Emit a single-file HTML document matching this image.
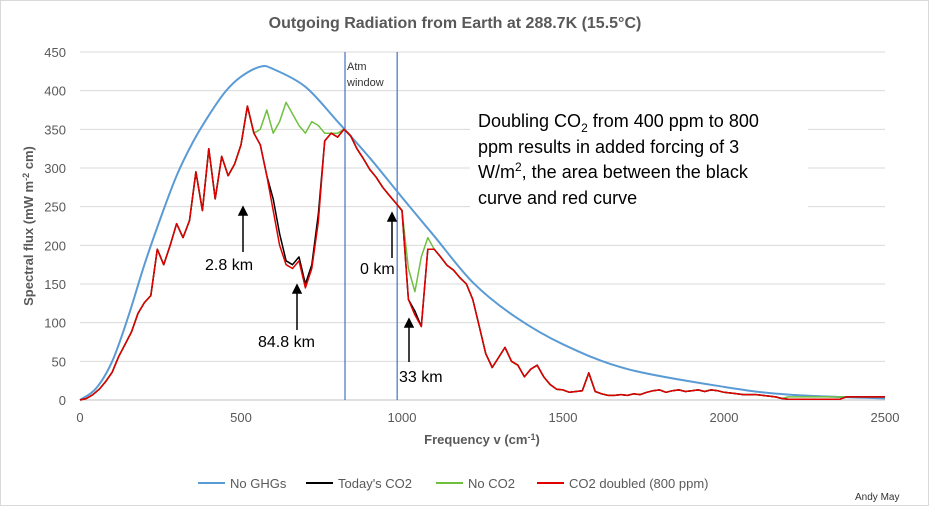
<!DOCTYPE html>
<html><head><meta charset="utf-8"><style>
body{margin:0;background:#fff;font-family:"Liberation Sans",sans-serif}
svg text{font-family:"Liberation Sans",sans-serif}
</style></head><body>
<svg id="c" width="935" height="513">
<rect x="0.5" y="0.5" width="928" height="505" fill="#fff" stroke="#d9d9d9"/>
<text x="455" y="28" text-anchor="middle" font-size="16" font-weight="bold" fill="#595959">Outgoing Radiation from Earth at 288.7K (15.5°C)</text>
<g id="grid"></g><g id="series"></g>
<rect x="470" y="104" width="338" height="112" fill="#fff"/>
<text x="33" y="226" transform="rotate(-90 33 226)" text-anchor="middle" font-size="13" font-weight="bold" fill="#595959">Spectral flux (mW m<tspan dy="-4" font-size="9">-2</tspan><tspan dy="4"> cm)</tspan></text>
<text x="482" y="444" text-anchor="middle" font-size="13" font-weight="bold" fill="#595959">Frequency v (cm<tspan dy="-4" font-size="9">-1</tspan><tspan dy="4">)</tspan></text>
<text x="347" y="70" font-size="11" fill="#333">Atm</text>
<text x="347" y="86" font-size="11" fill="#333">window</text>
<g font-size="18" fill="#000">
<text x="478" y="127">Doubling CO<tspan dy="5" font-size="12">2</tspan><tspan dy="-5"> from 400 ppm to 800</tspan></text>
<text x="478" y="153">ppm results in added forcing of  3</text>
<text x="478" y="178">W/m<tspan dy="-7" font-size="12">2</tspan><tspan dy="7">, the area between the black</tspan></text>
<text x="478" y="204">curve and red curve</text>
</g>
<g font-size="16" fill="#000">
<text x="205" y="270">2.8 km</text><text x="258" y="347">84.8 km</text><text x="360" y="274">0 km</text><text x="399" y="382">33 km</text>
</g>
<g stroke="#000" stroke-width="1.5" fill="#000">
<line x1="243" y1="252" x2="243" y2="214"/><polygon points="239,215 247,215 243,207"/>
<line x1="297" y1="330" x2="297" y2="292"/><polygon points="293,293 301,293 297,285"/>
<line x1="392" y1="258" x2="392" y2="220"/><polygon points="388,221 396,221 392,213"/>
<line x1="409" y1="362" x2="409" y2="326"/><polygon points="405,327 413,327 409,319"/>
</g>
<g font-size="13" fill="#595959">
<line x1="198" y1="483" x2="225" y2="483" stroke="#5b9bd5" stroke-width="2"/><text x="230" y="488">No GHGs</text>
<line x1="306" y1="483" x2="333" y2="483" stroke="#000" stroke-width="2"/><text x="338" y="488">Today's CO2</text>
<line x1="436" y1="483" x2="463" y2="483" stroke="#70c040" stroke-width="2"/><text x="468" y="488">No CO2</text>
<line x1="537" y1="483" x2="564" y2="483" stroke="#e00000" stroke-width="2"/><text x="569" y="488">CO2 doubled (800 ppm)</text>
</g>
<text x="855" y="500" font-size="10" fill="#333">Andy May</text>
</svg>
<script>
const xTicks=[0,500,1000,1500,2000,2500];
const yTicks=[0,50,100,150,200,250,300,350,400,450];
const planckFreq=[0,50,100,150,200,250,300,350,400,450,500,560,600,700,800,900,1000,1100,1220,1350,1500,1700,2000,2200,2500];
const planckVal=[0,15,50,108,175,235,290,333,368,398,418,431,428,405,360,313,262,212,152,108,72,40,17,7,2];
const freq=[];for(let f=0;f<=2500;f+=20)freq.push(f);
const red=[0,2,7,14,24,36,56,72,88,112,
126,135,195,175,200,228,210,232,295,245,
325,260,315,290,305,330,380,345,330,290,
245,200,175,170,180,145,170,230,335,345,
340,350,342,325,312,298,288,275,265,255,
245,130,110,95,195,195,185,174,168,158,
150,130,95,60,42,55,68,50,45,30,
40,45,30,20,14,13,10,11,12,35,
11,8,6,6,7,6,8,7,10,12,
13,10,12,13,11,12,13,11,13,12,
10,9,8,7,7,7,6,5,4,2,
1,1,1,1,1,1,1,1,1,
4,4,4,4,4,4,4];
const black=red.slice();
const blackIdx=[30,31,32,33,34,35,36,37,52];
const blackVal=[260,215,180,175,185,150,175,240,115];
blackIdx.forEach((i,k)=>black[i]=blackVal[k]);
const green=red.slice();
const greenIdx=[28,29,30,31,32,33,34,35,36,37,38,39,40,51,52,53,54,110,111,112,113,114,115,116,117,118];
const greenVal=[350,375,345,360,385,370,355,345,360,355,345,345,345,170,140,185,210,4,4,4,4,4,4,4,4,4];
greenIdx.forEach((i,k)=>green[i]=greenVal[k]);
const X=v=>80+v*805/2500, Y=v=>400-v*348/450;
const NS="http://www.w3.org/2000/svg";
const grid=document.getElementById('grid'),ser=document.getElementById('series');
function mk(tag,at,p){const e=document.createElementNS(NS,tag);for(const k in at)e.setAttribute(k,at[k]);p.appendChild(e);return e;}
yTicks.forEach(t=>{
 const l=mk('line',{x1:80,x2:885,y1:Y(t),y2:Y(t),stroke:t?'#d9d9d9':'#bfbfbf'},grid);
 
 
 const tx=mk('text',{x:66,y:Y(t)+5,'text-anchor':'end','font-size':13,fill:'#595959'},grid);tx.textContent=t;
 
 
});
xTicks.forEach(t=>{
 const tx=mk('text',{x:X(t),y:422,'text-anchor':'middle','font-size':13,fill:'#595959'},grid);tx.textContent=t;
 
 
});
[823,985].forEach(v=>{const l=mk('line',{x1:X(v),x2:X(v),y1:52,y2:400,stroke:'#4472c4','stroke-width':1.2},grid);
 
 });
function path(xs,ys,col,name,w){
 const d=xs.map((x,i)=>(i?'L':'M')+X(x).toFixed(1)+','+Y(ys[i]).toFixed(1)).join('');
 const p=mk('path',{d:d,fill:'none',stroke:col,'stroke-width':w,'stroke-linejoin':'round'},ser);
 
 
}
(function(){const n=planckFreq.length;const P=i=>[X(planckFreq[Math.max(0,Math.min(n-1,i))]),Y(planckVal[Math.max(0,Math.min(n-1,i))])];
 let d='M'+P(0)[0]+','+P(0)[1];
 for(let i=0;i<n-1;i++){const p0=P(i-1),p1=P(i),p2=P(i+1),p3=P(i+2);
 d+='C'+(p1[0]+(p2[0]-p0[0])/6)+','+(p1[1]+(p2[1]-p0[1])/6)+' '+(p2[0]-(p3[0]-p1[0])/6)+','+(p2[1]-(p3[1]-p1[1])/6)+' '+p2[0]+','+p2[1];}
 const p=mk('path',{d:d,fill:'none',stroke:'#5b9bd5','stroke-width':2},ser);
 
 })();
path(freq,green,'#70c040','no-co2-line',1.5);
path(freq,black,'#000','todays-co2-line',1.5);
path(freq,red,'#e00000','co2-doubled-line',1.5);
</script>
</body></html>
